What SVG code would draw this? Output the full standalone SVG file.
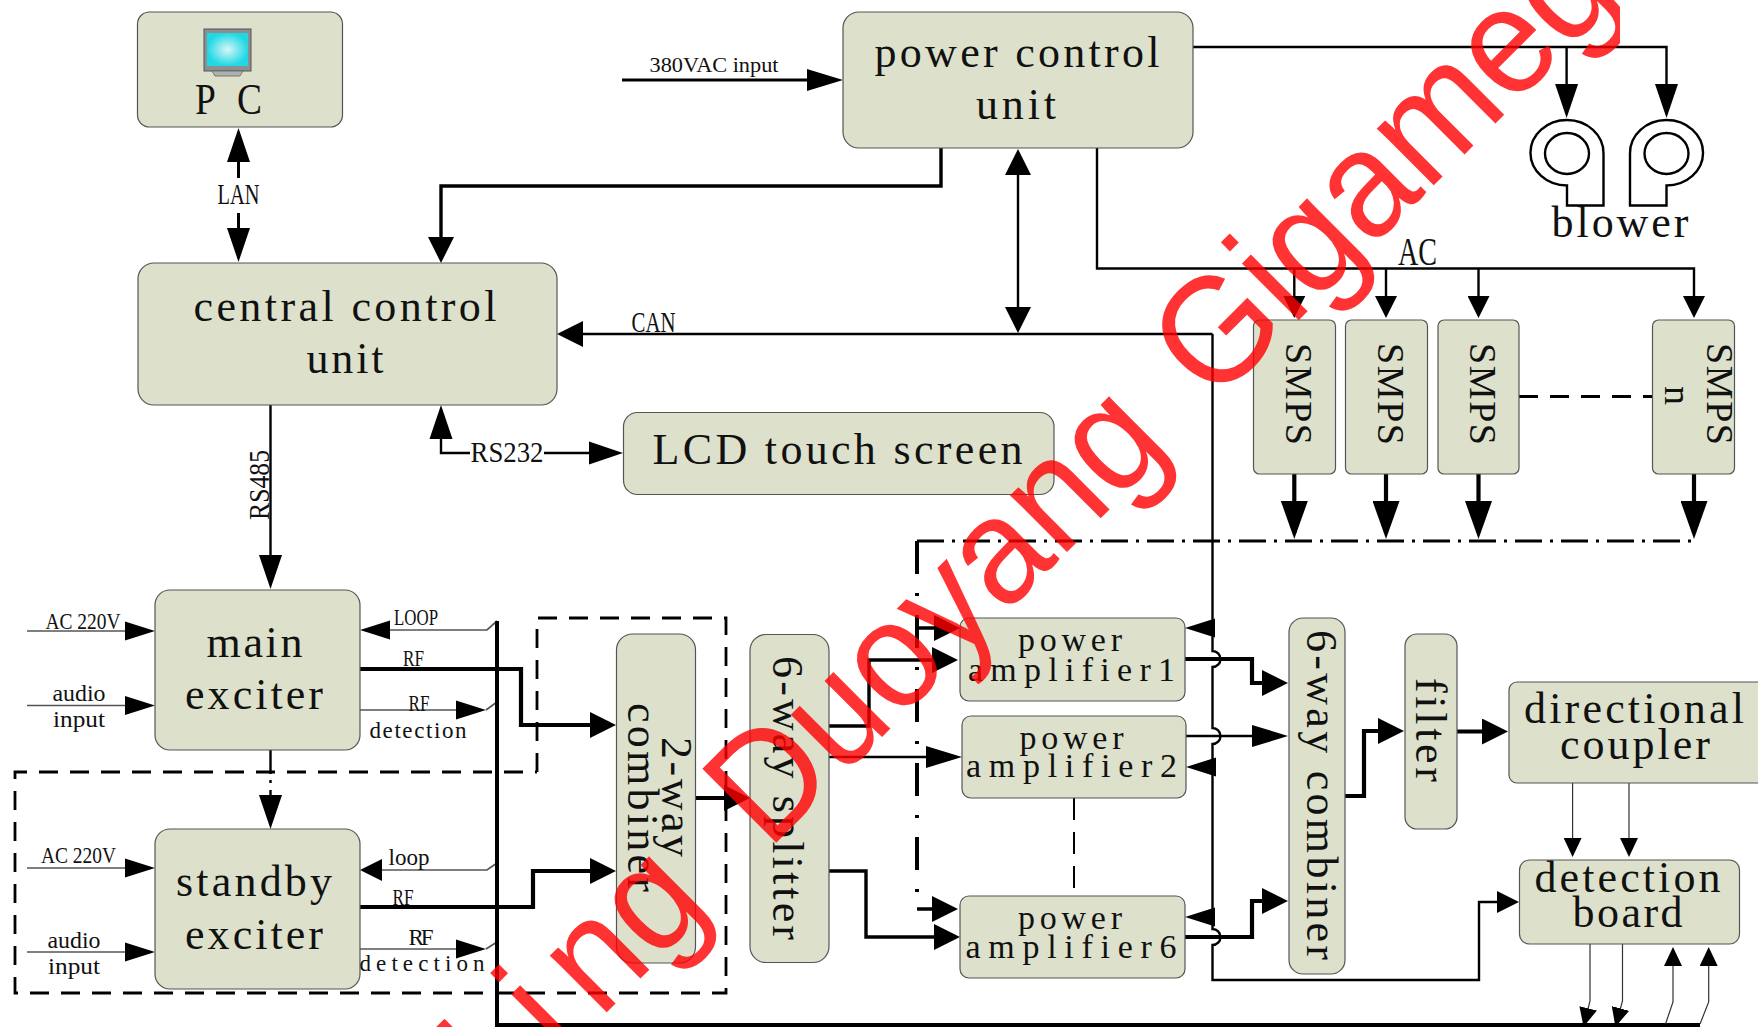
<svg xmlns="http://www.w3.org/2000/svg" width="1758" height="1027" viewBox="0 0 1758 1027">
<style>
.n{fill:#dde1cb;stroke:#555;stroke-width:1.2}
text{font-family:"Liberation Serif","DejaVu Serif",serif;fill:#111}
.b{font-size:44px}.p{font-size:34px}.s{font-size:23px}.m{font-size:29px}.sm{font-size:38px}
.w{fill:none;stroke:#000;stroke-width:2.4}
.w3{fill:none;stroke:#000;stroke-width:3}
.bus{fill:none;stroke:#000;stroke-width:4}
.t{fill:none;stroke:#000;stroke-width:4.2}
.tm{fill:none;stroke:#000;stroke-width:3.4}
.f{fill:none;stroke:#333;stroke-width:1.2}
.g{fill:none;stroke:#555;stroke-width:1.7}
.d{fill:none;stroke:#000;stroke-width:2.8;stroke-dasharray:19 12}
.d2{fill:none;stroke:#000;stroke-width:2;stroke-dasharray:22 12}
.dd{fill:none;stroke:#000;stroke-width:2.8;stroke-dasharray:27 8 3 8}
.dv{fill:none;stroke:#000;stroke-width:4;stroke-dasharray:33 19 3 19}
.wm{font-family:"Liberation Sans",Arial,sans-serif;font-size:152px;fill:#f00;fill-opacity:.8}
</style>
<defs>
<clipPath id="wmclip"><rect x="0" y="0" width="1620" height="1027"/></clipPath>
<radialGradient id="scr"><stop offset="0" stop-color="#d8f6f6"/><stop offset="1" stop-color="#1fd8e4"/></radialGradient>
<marker id="a30" markerUnits="userSpaceOnUse" markerWidth="30" markerHeight="20" refX="24" refY="10" orient="auto"><path d="M0 .5L30 10L0 19.500z"/></marker>
<marker id="a34" markerUnits="userSpaceOnUse" markerWidth="34" markerHeight="24" refX="28" refY="12" orient="auto"><path d="M0 .5L34 12L0 23.500z"/></marker>
<marker id="a26" markerUnits="userSpaceOnUse" markerWidth="26" markerHeight="26" refX="20" refY="13" orient="auto"><path d="M0 0L26 13L0 26z"/></marker>
<marker id="a22" markerUnits="userSpaceOnUse" markerWidth="22" markerHeight="22" refX="16" refY="11" orient="auto"><path d="M0 0L22 11L0 22z"/></marker>
<marker id="a38" markerUnits="userSpaceOnUse" markerWidth="38" markerHeight="27" refX="32" refY="13.500" orient="auto"><path d="M0 0L38 13.500L0 27z"/></marker>
<marker id="a19" markerUnits="userSpaceOnUse" markerWidth="19" markerHeight="18" refX="13" refY="9" orient="auto"><path d="M0 0L19 9L0 18z"/></marker>
<marker id="a36" markerUnits="userSpaceOnUse" markerWidth="36" markerHeight="22" refX="30" refY="11" orient="auto"><path d="M0 0L36 11L0 22z"/></marker>
</defs>
<rect width="1758" height="1027" fill="#fff"/>

<g id="dashed-frames">
<path class="d" d="M537 772V618H726V993H15V772H537"/>
<path class="dd" d="M917 541H1693"/>
<path class="dv" d="M917 541V906"/>
<path class="d2" d="M1074 798V896"/>
<path class="d" d="M1519 396.500H1653"/>
<path class="w" d="M270.500 750V774M270.500 780V783M270.500 790V795"/>
</g>

<g id="connectors">
<path class="w3" d="M238.500 178V134" marker-end="url(#a34)"/>
<path class="w3" d="M238.500 213V256" marker-end="url(#a34)"/>
<path class="tm" d="M941 148V186H441V257" marker-end="url(#a26)"/>
<path class="w3" d="M622 80H837" marker-end="url(#a36)"/>
<path class="w" d="M1193 47H1666.500V112" marker-end="url(#a34)"/>
<path class="w" d="M1566.600 47V112" marker-end="url(#a34)"/>
<path class="w" d="M1097 148V268.500H1694V312" marker-end="url(#a22)"/>
<path class="w" d="M1294.300 268.500V312" marker-end="url(#a22)"/>
<path class="w" d="M1386 268.500V312" marker-end="url(#a22)"/>
<path class="w" d="M1478.500 268.500V312" marker-end="url(#a22)"/>
<path class="t" d="M1294.300 474V533" marker-end="url(#a38)"/>
<path class="t" d="M1386 474V533" marker-end="url(#a38)"/>
<path class="t" d="M1478.500 474V533" marker-end="url(#a38)"/>
<path class="t" d="M1694 474V533" marker-end="url(#a38)"/>
<path class="w" d="M1018 240V155" marker-end="url(#a26)"/>
<path class="w" d="M1018 240V327" marker-end="url(#a26)"/>
<path class="w" d="M1212.500 334H563" marker-end="url(#a26)"/>
<path class="w" d="M1212.500 334V651a8 8 0 0 1 0 16V728a8 8 0 0 1 0 16V929a8 8 0 0 1 0 16V980H1479V902H1513" marker-end="url(#a22)"/>
<path class="w" d="M1212.500 628H1191" marker-end="url(#a30)"/>
<path class="w" d="M1212.500 767H1192" marker-end="url(#a30)"/>
<path class="w" d="M1212.500 917H1191" marker-end="url(#a30)"/>
<path class="w" d="M470 453H441V411" marker-end="url(#a34)"/>
<path class="w" d="M544 453H617" marker-end="url(#a34)"/>
<path class="w" d="M270.500 405V583" marker-end="url(#a34)"/>
<path class="g" d="M27 631H149" marker-end="url(#a30)"/>
<path class="g" d="M27 705.500H149" marker-end="url(#a30)"/>
<path class="g" d="M27 868H149" marker-end="url(#a30)"/>
<path class="g" d="M27 952H149" marker-end="url(#a30)"/>
<path class="g" d="M497 621L487 630H366" marker-end="url(#a30)"/>
<path class="g" d="M497 863L487 870H366" marker-end="url(#a22)"/>
<path class="g" d="M360 710H480" marker-end="url(#a30)"/>
<path class="g" d="M360 949H480" marker-end="url(#a30)"/>
<path class="g" d="M486 710L497 702M486 949L497 942"/>
<path class="bus" d="M497 621V1025H1700"/>
<path class="t" d="M360 669H521V725H610" marker-end="url(#a26)"/>
<path class="t" d="M360 907H533V871H610" marker-end="url(#a26)"/>
<path class="w" d="M270.500 795V823" marker-end="url(#a34)"/>
<path class="t" d="M696 798H744" marker-end="url(#a26)"/>
<path class="tm" d="M829 726H869V660H952" marker-end="url(#a26)"/>
<path class="w" d="M829 757H956" marker-end="url(#a36)"/>
<path class="tm" d="M829 871H866V937H954" marker-end="url(#a26)"/>
<path class="tm" d="M917 909H952" marker-end="url(#a26)"/>
<path class="tm" d="M917 628H954" marker-end="url(#a26)"/>
<path class="t" d="M1185 659H1252V683H1282" marker-end="url(#a26)"/>
<path class="w" d="M1186 736H1282" marker-end="url(#a36)"/>
<path class="t" d="M1185 937H1252V901H1282" marker-end="url(#a26)"/>
<path class="t" d="M1345 796H1364V731H1398" marker-end="url(#a26)"/>
<path class="t" d="M1457 731.500H1502" marker-end="url(#a26)"/>
<path class="f" d="M1572.600 783V851" marker-end="url(#a19)"/>
<path class="f" d="M1629 783V851" marker-end="url(#a19)"/>
<path class="f" d="M1590 944V1001L1585 1021" marker-end="url(#a19)"/>
<path class="f" d="M1622.500 944V1001L1617 1021" marker-end="url(#a19)"/>
<path class="f" d="M1665.500 1024L1673 1002V953" marker-end="url(#a19)"/>
<path class="f" d="M1700 1024L1708.700 1002V953" marker-end="url(#a19)"/>
</g>

<g id="pc"><rect class="n" x="137.500" y="12" width="205" height="115" rx="12"/>
<rect x="204" y="29" width="47" height="42" fill="#8a8f92" stroke="#555"/><rect x="207" y="33" width="41" height="33" fill="url(#scr)"/>
<path d="M212 71H243L240 76H215z" fill="#aeb2ac" stroke="#666" stroke-width=".8"/>
<text transform="translate(195 114) scale(.85 1)" font-size="44" word-spacing="15.500">P C</text></g>

<g id="power-control-unit"><rect class="n" x="843" y="12" width="350" height="136" rx="16"/>
<text class="b" x="1017" y="67" text-anchor="middle" textLength="285" lengthAdjust="spacing">power control</text>
<text class="b" x="1016" y="119" text-anchor="middle" textLength="80" lengthAdjust="spacing">unit</text></g>

<g id="central-control-unit"><rect class="n" x="138" y="263" width="419" height="142" rx="16"/>
<text class="b" x="345" y="321" text-anchor="middle" textLength="303" lengthAdjust="spacing">central control</text>
<text class="b" x="345" y="373" text-anchor="middle" textLength="77" lengthAdjust="spacing">unit</text></g>

<g id="lcd"><rect class="n" x="623.500" y="412.500" width="430.500" height="82" rx="14"/>
<text class="b" x="837.500" y="464" text-anchor="middle" textLength="370" lengthAdjust="spacing">LCD touch screen</text></g>

<g id="main-exciter"><rect class="n" x="155" y="590" width="205" height="160" rx="15"/>
<text class="b" x="254.500" y="657" text-anchor="middle" textLength="96" lengthAdjust="spacing">main</text>
<text class="b" x="254" y="709" text-anchor="middle" textLength="138" lengthAdjust="spacing">exciter</text></g>

<g id="standby-exciter"><rect class="n" x="155" y="829" width="205" height="160" rx="15"/>
<text class="b" x="254" y="896" text-anchor="middle" textLength="156" lengthAdjust="spacing">standby</text>
<text class="b" x="254" y="949" text-anchor="middle" textLength="138" lengthAdjust="spacing">exciter</text></g>

<g id="two-way-combiner"><rect class="n" x="616.500" y="634" width="79" height="329" rx="16"/>
<text class="b" transform="translate(662 737) rotate(90)" textLength="120" lengthAdjust="spacing">2-way</text>
<text class="b" transform="translate(628 703) rotate(90)" textLength="189" lengthAdjust="spacing">combiner</text></g>

<g id="six-way-splitter"><rect class="n" x="750" y="634.500" width="79" height="328" rx="16"/>
<text class="b" transform="translate(773 656) rotate(90)" textLength="284" lengthAdjust="spacing">6-way splitter</text></g>

<g id="power-amplifier-1"><rect class="n" x="960" y="618" width="225" height="83" rx="9"/>
<text class="p" x="1070" y="651" text-anchor="middle" textLength="104" lengthAdjust="spacing">power</text>
<text class="p" x="1071.500" y="681" text-anchor="middle" textLength="207" lengthAdjust="spacing">amplifier1</text></g>
<g id="power-amplifier-2"><rect class="n" x="962" y="716" width="224" height="82" rx="9"/>
<text class="p" x="1071.500" y="749" text-anchor="middle" textLength="104" lengthAdjust="spacing">power</text>
<text class="p" x="1071.500" y="777" text-anchor="middle" textLength="211" lengthAdjust="spacing">amplifier2</text></g>
<g id="power-amplifier-6"><rect class="n" x="960" y="896" width="225" height="82" rx="9"/>
<text class="p" x="1070" y="929" text-anchor="middle" textLength="104" lengthAdjust="spacing">power</text>
<text class="p" x="1071" y="958" text-anchor="middle" textLength="211" lengthAdjust="spacing">amplifier6</text></g>

<g id="six-way-combiner"><rect class="n" x="1289" y="618" width="56" height="356" rx="14"/>
<text class="b" transform="translate(1306.500 630) rotate(90)" textLength="330" lengthAdjust="spacing">6-way combiner</text></g>

<g id="filter"><rect class="n" x="1405" y="634" width="52" height="195" rx="12"/>
<text class="b" transform="translate(1416 678) rotate(90)" textLength="104" lengthAdjust="spacing">filter</text></g>

<g id="directional-coupler"><rect class="n" x="1509" y="682" width="260" height="101" rx="8"/>
<text class="b" x="1634" y="722.500" text-anchor="middle" textLength="220" lengthAdjust="spacing">directional</text>
<text class="b" x="1635" y="759" text-anchor="middle" textLength="150" lengthAdjust="spacing">coupler</text></g>

<g id="detection-board"><rect class="n" x="1519.500" y="860" width="220" height="84" rx="10"/>
<text class="b" x="1627.500" y="891.500" text-anchor="middle" textLength="186" lengthAdjust="spacing">detection</text>
<text class="b" x="1627.500" y="927" text-anchor="middle" textLength="110" lengthAdjust="spacing">board</text></g>

<g id="smps-1"><rect class="n" x="1253.500" y="320" width="82" height="154" rx="6"/><text class="sm" transform="translate(1286 343) rotate(90)" textLength="102" lengthAdjust="spacing">SMPS</text></g>
<g id="smps-2"><rect class="n" x="1345.500" y="320" width="82" height="154" rx="6"/><text class="sm" transform="translate(1378 343) rotate(90)" textLength="102" lengthAdjust="spacing">SMPS</text></g>
<g id="smps-3"><rect class="n" x="1438" y="320" width="81" height="154" rx="6"/><text class="sm" transform="translate(1470 343) rotate(90)" textLength="102" lengthAdjust="spacing">SMPS</text></g>
<g id="smps-n"><rect class="n" x="1652.500" y="320" width="82" height="154" rx="6"/><text class="sm" transform="translate(1707 343) rotate(90)" textLength="102" lengthAdjust="spacing">SMPS</text><text class="sm" transform="translate(1664.500 386) rotate(90)">n</text></g>

<g id="blower-1"><path class="w" d="M1567 120A36.500 33 0 0 1 1603.500 153.500V205.500H1567V185.500A36.500 32.700 0 1 1 1567 120z"/><ellipse class="w" cx="1567" cy="153.500" rx="22" ry="20.500"/></g>
<g id="blower-2"><path class="w" d="M1666.500 120A36.500 33 0 0 0 1630 153.500V205.500H1666.500V185.500A36.500 32.700 0 1 0 1666.500 120z"/><ellipse class="w" cx="1666.500" cy="153.500" rx="22" ry="20.500"/></g>

<g id="labels">
<text x="1620" y="237" class="b" text-anchor="middle" textLength="137" lengthAdjust="spacing">blower</text>
<text x="1417.500" y="265" font-size="40" text-anchor="middle" textLength="39" lengthAdjust="spacingAndGlyphs">AC</text>
<text x="653.500" y="332" class="m" text-anchor="middle" textLength="44" lengthAdjust="spacingAndGlyphs">CAN</text>
<text x="238.500" y="204" class="m" text-anchor="middle" textLength="42" lengthAdjust="spacingAndGlyphs">LAN</text>
<text x="714" y="72" font-size="21" text-anchor="middle" textLength="129" lengthAdjust="spacingAndGlyphs">380VAC input</text>
<text x="507" y="462" class="m" text-anchor="middle" textLength="73" lengthAdjust="spacingAndGlyphs">RS232</text>
<text class="m" transform="translate(269 520) rotate(-90)" textLength="70" lengthAdjust="spacingAndGlyphs">RS485</text>
<text class="s" x="83" y="629" text-anchor="middle" textLength="75" lengthAdjust="spacingAndGlyphs">AC 220V</text>
<text class="s" x="79" y="701" text-anchor="middle" textLength="53" lengthAdjust="spacingAndGlyphs">audio</text>
<text class="s" x="79" y="727" text-anchor="middle" textLength="52" lengthAdjust="spacingAndGlyphs">input</text>
<text class="s" x="78.500" y="863" text-anchor="middle" textLength="75" lengthAdjust="spacingAndGlyphs">AC 220V</text>
<text class="s" x="74" y="948" text-anchor="middle" textLength="53" lengthAdjust="spacingAndGlyphs">audio</text>
<text class="s" x="74" y="974" text-anchor="middle" textLength="52" lengthAdjust="spacingAndGlyphs">input</text>
<text class="s" x="416" y="625" text-anchor="middle" textLength="44" lengthAdjust="spacingAndGlyphs">LOOP</text>
<text class="s" x="413.500" y="666" text-anchor="middle" textLength="21" lengthAdjust="spacingAndGlyphs">RF</text>
<text class="s" x="419" y="711" text-anchor="middle" textLength="21" lengthAdjust="spacingAndGlyphs">RF</text>
<text class="s" x="418" y="738" text-anchor="middle" textLength="97" lengthAdjust="spacing">detection</text>
<text class="s" x="409" y="865" text-anchor="middle" textLength="41" lengthAdjust="spacing">loop</text>
<text class="s" x="403" y="905" text-anchor="middle" textLength="21" lengthAdjust="spacingAndGlyphs">RF</text>
<text class="s" x="421" y="945" text-anchor="middle" textLength="25" lengthAdjust="spacing">RF</text>
<text class="s" x="422" y="971" text-anchor="middle" textLength="125" lengthAdjust="spacing">detection</text>
</g>

<g id="watermark" clip-path="url(#wmclip)"><text class="wm" transform="translate(768 851) rotate(-45) scale(.94 1)"><tspan x="-393 -311 -253 -168">jing </tspan><tspan x="0">Duoyang </tspan><tspan x="670 ">Gigameg</tspan></text></g>
</svg>
